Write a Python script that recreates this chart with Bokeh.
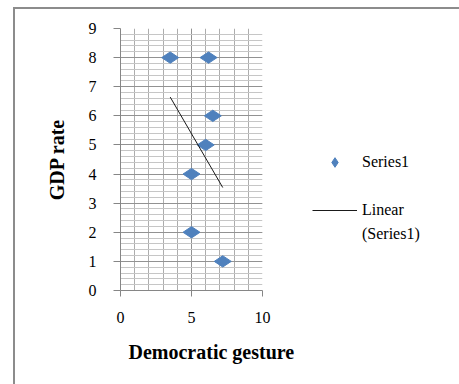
import numpy as np
from bokeh.plotting import figure
from bokeh.layouts import row
from bokeh.models import (FixedTicker, Legend, LegendItem, Title,
                          ColumnDataSource, Range1d)
from bokeh.embed import file_html
from bokeh.resources import INLINE

# ---- data ----
democratic_gesture = [3.5, 6.2, 6.5, 6.0, 5.0, 5.0, 7.2]
gdp_rate = [8, 8, 6, 5, 4, 2, 1]
x_ticks = [0, 5, 10]
y_ticks = [0, 1, 2, 3, 4, 5, 6, 7, 8, 9]
series_name = "Series1"
trend_name_lines = ["Linear", "(Series1)"]
x_title = "Democratic gesture"
y_title = "GDP rate"

# linear trendline (least squares fit of the series, as Excel does)
slope, intercept = np.polyfit(democratic_gesture, gdp_rate, 1)
trend_x = [min(democratic_gesture), max(democratic_gesture)]
trend_y = [slope * x + intercept for x in trend_x]

SERIF = "Liberation Serif"
BLUE = "#4f81bd"

# page offset of the canvases: (15, 9) because of margin + border of the row
p = figure(width=290, height=375, x_range=Range1d(0, 10), y_range=Range1d(0, 9),
           output_backend="svg", toolbar_location=None,
           min_border_left=105, min_border_right=43, min_border_top=19, min_border_bottom=94)
p.outline_line_color = None
p.background_fill_color = "white"
p.border_fill_color = "white"

# grids
p.xgrid.ticker = FixedTicker(ticks=x_ticks, minor_ticks=list(range(0, 11)))
p.xgrid.grid_line_color = "#929292"
p.xgrid.minor_grid_line_color = "#adadad"
p.ygrid.ticker = FixedTicker(ticks=y_ticks,
                             minor_ticks=[round(v, 1) for v in np.arange(0, 9.01, 0.2)])
p.ygrid.grid_line_color = "#929292"
p.ygrid.minor_grid_line_color = "#c6c6c6"

# axes
for ax, ticks, out, standoff in ((p.xaxis, x_ticks, 6, 15), (p.yaxis, y_ticks, 7, 17)):
    ax.ticker = FixedTicker(ticks=ticks)
    ax.axis_line_color = "#868686"
    ax.major_tick_line_color = "#868686"
    ax.major_tick_in = 0
    ax.major_tick_out = out
    ax.minor_tick_line_color = None
    ax.major_label_text_font = SERIF
    ax.major_label_text_font_size = "16px"
    ax.major_label_text_color = "black"
    ax.major_label_standoff = standoff

p.yaxis.axis_label = y_title
p.yaxis.axis_label_text_font = SERIF
p.yaxis.axis_label_text_font_size = "20px"
p.yaxis.axis_label_text_font_style = "bold"
p.yaxis.axis_label_text_color = "black"
p.yaxis.axis_label_standoff = 18

# data
src = ColumnDataSource(dict(x=democratic_gesture, y=gdp_rate))
p.scatter("x", "y", source=src, marker="diamond", angle=np.pi / 2, size=17,
          fill_color=BLUE, line_color=BLUE)
p.line(trend_x, trend_y, line_color="#1a1a1a", line_width=1)

# x axis title, shifted right of the frame centre as in the reference
p.add_layout(Title(text=x_title, align="left", offset=8, text_font=SERIF,
                   text_font_size="20px", text_font_style="bold", text_color="black",
                   standoff=26), "below")

# legend panel to the right of the chart (its renderers lie outside its view)
q = figure(width=154, height=375, x_range=Range1d(-1, 0), y_range=Range1d(-1, 0),
           x_axis_type=None, y_axis_type=None, output_backend="svg",
           toolbar_location=None, min_border=0)
q.outline_line_color = None
q.grid.visible = False
leg_pts = q.scatter(democratic_gesture, gdp_rate, marker="diamond", angle=np.pi / 2,
                    size=16, fill_color=BLUE, line_color=BLUE)
leg_line = q.line(trend_x, trend_y, line_color="#1a1a1a", line_width=1)
leg_blank = q.line(trend_x, trend_y, line_alpha=0)

legend = Legend(items=[
    LegendItem(label=series_name, renderers=[leg_pts]),
    LegendItem(label=" ", renderers=[leg_blank]),
    LegendItem(label=trend_name_lines[0], renderers=[leg_line]),
    LegendItem(label=trend_name_lines[1], renderers=[leg_blank]),
], location=(7, 44))
legend.glyph_width = 45
legend.glyph_height = 24
legend.label_height = 24
legend.spacing = 0
legend.label_standoff = 5
legend.padding = 0
legend.margin = 0
legend.border_line_alpha = 0
legend.background_fill_alpha = 0
legend.label_text_font = SERIF
legend.label_text_font_size = "16px"
legend.label_text_color = "black"
q.add_layout(legend, "center")

layout = row(p, q, spacing=0)
layout.styles = {"border-top": "2px solid #8c8c8c", "border-left": "2px solid #8c8c8c",
                 "margin-left": "13px", "margin-top": "7px"}

open("out.html", "w").write(file_html(layout, INLINE))
